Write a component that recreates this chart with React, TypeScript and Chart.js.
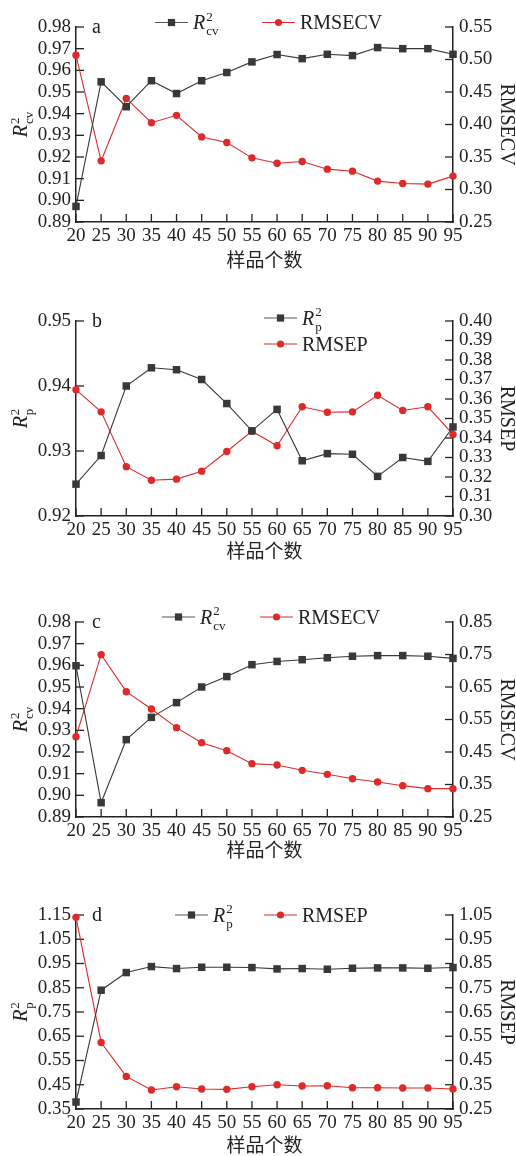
import React, { useEffect, useRef } from 'react';
import { Chart, registerables } from 'chart.js';
Chart.register(...registerables);

// ---------- data ----------
const sampleCounts = ['20', '25', '30', '35', '40', '45', '50', '55', '60', '65', '70', '75', '80', '85', '90', '95'];

const aR2cv = [0.8972, 0.9547, 0.9432, 0.9552, 0.9493, 0.9552, 0.9590, 0.9639, 0.9673, 0.9654, 0.9674, 0.9668, 0.9705, 0.9700, 0.9700, 0.9674];
const aRMSECV = [0.5066, 0.3441, 0.4401, 0.4028, 0.4141, 0.3809, 0.3722, 0.3487, 0.3405, 0.3431, 0.3313, 0.3282, 0.3129, 0.3093, 0.3083, 0.3206];

const bR2p = [0.9249, 0.9293, 0.9400, 0.9428, 0.9425, 0.9410, 0.9373, 0.9331, 0.9364, 0.9285, 0.9296, 0.9295, 0.9261, 0.9290, 0.9284, 0.9337];
const bRMSEP = [0.3648, 0.3534, 0.3253, 0.3183, 0.3189, 0.3230, 0.3331, 0.3435, 0.3360, 0.3560, 0.3532, 0.3534, 0.3619, 0.3541, 0.3560, 0.3418];

const cR2cv = [0.9598, 0.8966, 0.9257, 0.9360, 0.9428, 0.9500, 0.9548, 0.9603, 0.9618, 0.9626, 0.9635, 0.9642, 0.9645, 0.9645, 0.9642, 0.9632];
const cRMSECV = [0.4972, 0.7495, 0.6356, 0.5823, 0.5249, 0.4787, 0.4541, 0.4141, 0.4100, 0.3936, 0.3813, 0.3679, 0.3577, 0.3464, 0.3372, 0.3372];

const dR2p = [0.3788, 0.8399, 0.9126, 0.9373, 0.9291, 0.9346, 0.9346, 0.9332, 0.9277, 0.9291, 0.9263, 0.9304, 0.9318, 0.9318, 0.9304, 0.9332];
const dRMSEP = [1.0404, 0.5244, 0.3845, 0.3282, 0.3419, 0.3323, 0.3310, 0.3419, 0.3502, 0.3447, 0.3461, 0.3378, 0.3378, 0.3365, 0.3365, 0.3323];

// axis ranges [min, max, step]
const aLeftAxis = [0.89, 0.98, 0.01];
const aRightAxis = [0.25, 0.55, 0.05];
const bLeftAxis = [0.92, 0.95, 0.01];
const bRightAxis = [0.30, 0.40, 0.01];
const cLeftAxis = [0.89, 0.98, 0.01];
const cRightAxis = [0.25, 0.85, 0.1];
const dLeftAxis = [0.35, 1.15, 0.1];
const dRightAxis = [0.25, 1.05, 0.1];

const xTitle = '样品个数';

// ---------- styles ----------
const FONT = "'Liberation Serif','Times New Roman',serif";
const CJK = "'Liberation Serif','Noto Sans CJK SC',serif";
const TEXT = '#222222';
const AXIS = '#222222';
const BLACK = '#383838';
const RED = '#de2a2a';
const TICK = 8;

type LegendPos = { x: number; y: number };
type PanelCfg = {
  top: number; height: number; chartTop: number; chartBottom: number;
  letter: string; sub: string; rightTitle: string;
  left: number[]; right: number[];
  black: number[]; red: number[];
  legend: LegendPos[]; titleOffset: number;
};

const panels: PanelCfg[] = [
  { top: 0, height: 272, chartTop: 27, chartBottom: 222, letter: 'a', sub: 'cv', rightTitle: 'RMSECV',
    left: aLeftAxis, right: aRightAxis, black: aR2cv, red: aRMSECV,
    legend: [{ x: 155, y: 22.5 }, { x: 262, y: 22.5 }], titleOffset: 10 },
  { top: 280, height: 283, chartTop: 41, chartBottom: 236, letter: 'b', sub: 'p', rightTitle: 'RMSEP',
    left: bLeftAxis, right: bRightAxis, black: bR2p, red: bRMSEP,
    legend: [{ x: 264, y: 38 }, { x: 264, y: 64 }], titleOffset: 10 },
  { top: 570, height: 292, chartTop: 52, chartBottom: 247, letter: 'c', sub: 'cv', rightTitle: 'RMSECV',
    left: cLeftAxis, right: cRightAxis, black: cR2cv, red: cRMSECV,
    legend: [{ x: 162, y: 47 }, { x: 260, y: 47 }], titleOffset: 10 },
  { top: 870, height: 286, chartTop: 45, chartBottom: 239, letter: 'd', sub: 'p', rightTitle: 'RMSEP',
    left: dLeftAxis, right: dRightAxis, black: dR2p, red: dRMSEP,
    legend: [{ x: 175, y: 45 }, { x: 264, y: 45 }], titleOffset: 9 },
];

function drawRSym(ctx: CanvasRenderingContext2D, x: number, y: number, sub: string, size: number, doDraw = true) {
  ctx.font = `italic ${size}px ${FONT}`;
  ctx.textAlign = 'left';
  ctx.textBaseline = 'alphabetic';
  const wR = ctx.measureText('R').width;
  if (doDraw) ctx.fillText('R', x, y);
  const s = Math.round(size * 0.65);
  ctx.font = `${s}px ${FONT}`;
  const w2 = ctx.measureText('2').width;
  const ws = ctx.measureText(sub).width;
  if (doDraw) {
    ctx.fillText('2', x + wR + 1, y - size * 0.42);
    ctx.fillText(sub, x + wR + 1, y + size * 0.3);
  }
  return wR + 1 + Math.max(w2, ws);
}

function makePlugin(cfg: PanelCfg) {
  return {
    id: 'decor' + cfg.letter,
    beforeDatasetsDraw(chart: any) {
      const ctx: CanvasRenderingContext2D = chart.ctx;
      const { left, right, bottom } = chart.chartArea;
      ctx.save();
      ctx.strokeStyle = AXIS;
      ctx.lineWidth = 1.3;
      const ln = (x1: number, y1: number, x2: number, y2: number) => {
        ctx.beginPath(); ctx.moveTo(x1, y1); ctx.lineTo(x2, y2); ctx.stroke();
      };
      const xs = chart.scales.x;
      xs.ticks.forEach((_: any, i: number) => { const p = xs.getPixelForTick(i); ln(p, bottom, p, bottom - TICK); });
      const ys = chart.scales.y;
      ys.ticks.forEach((_: any, i: number) => { const p = ys.getPixelForTick(i); ln(left, p, left + TICK, p); });
      const y1 = chart.scales.y1;
      y1.ticks.forEach((_: any, i: number) => { const p = y1.getPixelForTick(i); ln(right, p, right - TICK, p); });
      ctx.restore();
    },
    afterDraw(chart: any) {
      const ctx: CanvasRenderingContext2D = chart.ctx;
      const { left, top, bottom } = chart.chartArea;
      ctx.save();
      ctx.fillStyle = TEXT;
      // panel letter
      ctx.font = `20px ${FONT}`;
      ctx.textAlign = 'left';
      ctx.textBaseline = 'alphabetic';
      ctx.fillText(cfg.letter, left + 16, top + 5.5);
      // left title (rotated)
      const cy = (top + bottom) / 2;
      ctx.save();
      ctx.translate(27, cy);
      ctx.rotate(-Math.PI / 2);
      const w = drawRSym(ctx, 0, 0, cfg.sub, 20, false);
      drawRSym(ctx, -w / 2, 0, cfg.sub, 20, true);
      ctx.restore();
      // legend
      const L = 33;
      const [p0, p1] = cfg.legend;
      ctx.lineWidth = 1.2;
      ctx.strokeStyle = '#555555';
      ctx.beginPath(); ctx.moveTo(p0.x, p0.y); ctx.lineTo(p0.x + L, p0.y); ctx.stroke();
      ctx.fillStyle = BLACK;
      ctx.fillRect(p0.x + L / 2 - 3.6, p0.y - 3.6, 7.2, 7.2);
      ctx.fillStyle = TEXT;
      drawRSym(ctx, p0.x + L + 5, p0.y + 6.6, cfg.sub, 20, true);
      ctx.strokeStyle = RED;
      ctx.beginPath(); ctx.moveTo(p1.x, p1.y); ctx.lineTo(p1.x + L, p1.y); ctx.stroke();
      ctx.fillStyle = RED;
      ctx.beginPath(); ctx.arc(p1.x + L / 2, p1.y, 3.6, 0, Math.PI * 2); ctx.fill();
      ctx.fillStyle = TEXT;
      ctx.font = `20px ${FONT}`;
      ctx.textBaseline = 'alphabetic';
      ctx.fillText(cfg.rightTitle, p1.x + L + 5, p1.y + 6.6);
      ctx.restore();
    },
  };
}

function Panel({ cfg }: { cfg: PanelCfg }) {
  const ref = useRef<HTMLCanvasElement>(null);
  useEffect(() => {
    const tickFont = { family: FONT, size: 19, lineHeight: 1 };
    const fmt = (v: any) => Number(v).toFixed(2);
    const chart = new Chart(ref.current as HTMLCanvasElement, {
      type: 'line',
      data: {
        labels: sampleCounts,
        datasets: [
          {
            label: 'R2',
            data: cfg.black,
            yAxisID: 'y',
            borderColor: BLACK,
            backgroundColor: BLACK,
            borderWidth: 1.1,
            pointStyle: 'rect',
            pointRadius: 5.3,
            pointBorderWidth: 0,
            pointBackgroundColor: BLACK,
            tension: 0,
            clip: false as any,
          },
          {
            label: cfg.rightTitle,
            data: cfg.red,
            yAxisID: 'y1',
            borderColor: RED,
            backgroundColor: RED,
            borderWidth: 1.1,
            pointStyle: 'circle',
            pointRadius: 3.7,
            pointBorderWidth: 0,
            pointBackgroundColor: RED,
            tension: 0,
            clip: false as any,
          },
        ],
      },
      options: {
        responsive: false,
        animation: false,
        devicePixelRatio: 1,
        events: [],
        layout: { padding: { top: cfg.chartTop, left: 0, right: 0, bottom: 0 } },
        plugins: { legend: { display: false }, tooltip: { enabled: false } },
        scales: {
          x: {
            type: 'category',
            grid: { display: false, drawTicks: false },
            border: { display: true, color: AXIS, width: 1.5 },
            ticks: { font: { family: FONT, size: 19 }, color: TEXT, padding: 2.5, maxRotation: 0, autoSkip: false },
            title: {
              display: true, text: xTitle, color: TEXT,
              font: { family: CJK, size: 19, lineHeight: 1 },
              padding: { top: 0, bottom: cfg.titleOffset - 9.5 },
            },
            afterFit: (s: any) => { s.height = cfg.height - cfg.chartBottom; },
          },
          y: {
            type: 'linear', position: 'left',
            min: cfg.left[0], max: cfg.left[1],
            grid: { display: false, drawTicks: false },
            border: { display: true, color: AXIS, width: 1.5 },
            ticks: { stepSize: cfg.left[2], font: tickFont, color: TEXT, padding: 5, callback: fmt, autoSkip: false },
            afterFit: (s: any) => { s.width = 76; },
          },
          y1: {
            type: 'linear', position: 'right',
            min: cfg.right[0], max: cfg.right[1],
            grid: { display: false, drawTicks: false },
            border: { display: true, color: AXIS, width: 1.5 },
            ticks: { stepSize: cfg.right[2], font: tickFont, color: TEXT, padding: 6, callback: fmt, autoSkip: false },
            title: {
              display: true, text: cfg.rightTitle, color: TEXT,
              font: { family: FONT, size: 20, lineHeight: 1 },
              padding: { top: -0.5, bottom: 0 },
            },
            afterFit: (s: any) => { s.width = 63; },
          },
        },
      } as any,
      plugins: [makePlugin(cfg) as any],
    });
    return () => chart.destroy();
  }, [cfg]);
  return (
    <div style={{ position: 'absolute', left: 0, top: cfg.top, width: 516, height: cfg.height }}>
      <canvas ref={ref} width={516} height={cfg.height} style={{ display: 'block', width: 516, height: cfg.height }} />
    </div>
  );
}

export default function App() {
  return (
    <div style={{ position: 'absolute', left: 0, top: 0, width: 516, height: 1156, background: '#ffffff', overflow: 'hidden' }}>
      {panels.map((p) => <Panel key={p.letter} cfg={p} />)}
    </div>
  );
}
